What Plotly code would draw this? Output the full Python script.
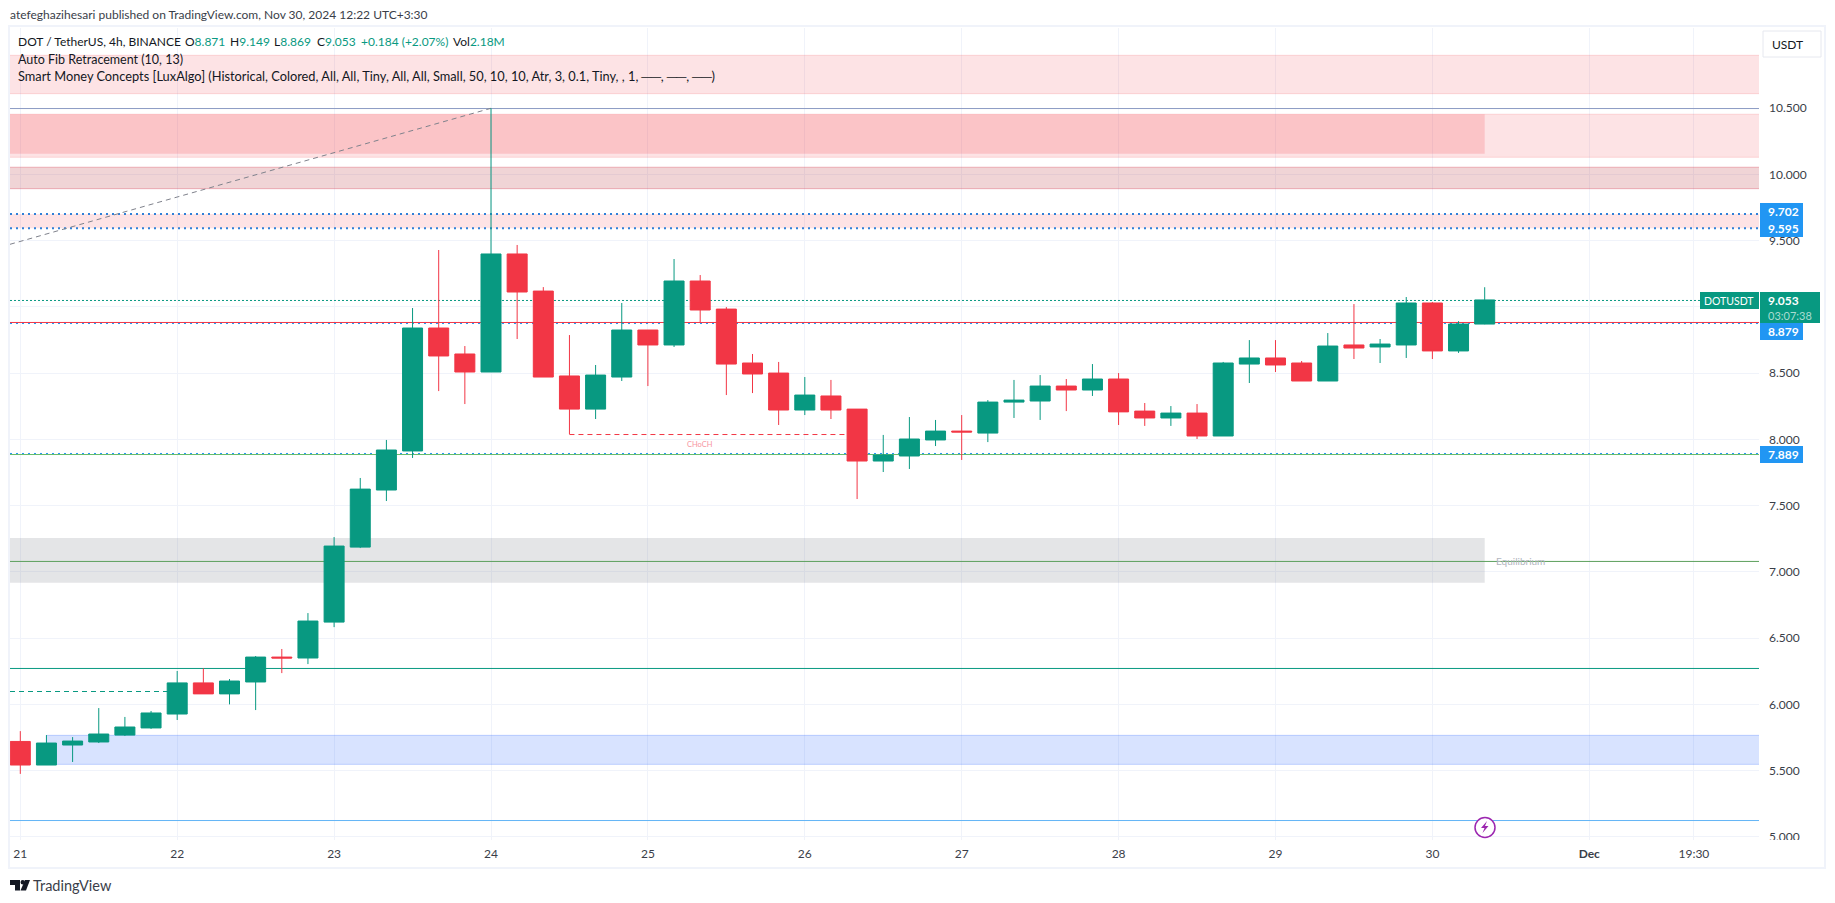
import plotly.graph_objects as go

# candles, bar index 0 = 21 Nov, six 4h bars per day
opens = [5.72, 5.542, 5.693, 5.716, 5.768, 5.822, 5.927, 6.162, 6.079, 6.169, 6.357, 6.35, 6.621, 7.187, 7.618,
         7.913, 8.841, 8.645, 8.509, 9.4, 9.12, 8.479, 8.229, 8.471, 8.826, 8.713, 9.196, 8.984, 8.577, 8.501,
         8.222, 8.328, 8.229, 7.837, 7.875, 7.996, 8.063, 8.048, 8.282, 8.29, 8.403, 8.373, 8.456, 8.214, 8.162,
         8.199, 8.026, 8.569, 8.615, 8.577, 8.441, 8.713, 8.698, 8.713, 9.03, 8.668, 8.871]
highs = [5.798, 5.768, 5.753, 5.972, 5.905, 5.95, 6.252, 6.272, 6.191, 6.365, 6.418, 6.689, 7.263, 7.709, 7.996,
         8.992, 9.43, 8.705, 10.5, 9.468, 9.15, 8.788, 8.562, 9.03, 8.826, 9.362, 9.241, 8.999, 8.645, 8.585,
         8.471, 8.449, 8.229, 8.034, 8.169, 8.147, 8.184, 8.297, 8.449, 8.486, 8.456, 8.569, 8.501, 8.275, 8.252,
         8.267, 8.585, 8.75, 8.75, 8.592, 8.803, 9.022, 8.758, 9.075, 9.037, 8.893, 9.149]
lows = [5.475, 5.542, 5.565, 5.708, 5.761, 5.815, 5.882, 6.079, 6.0, 5.957, 6.236, 6.304, 6.583, 7.18, 7.535,
        7.86, 8.365, 8.267, 8.509, 8.758, 8.471, 8.04, 8.154, 8.441, 8.403, 8.698, 8.879, 8.335, 8.35, 8.109,
        8.184, 8.154, 7.55, 7.754, 7.777, 7.95, 7.845, 7.98, 8.162, 8.147, 8.214, 8.328, 8.109, 8.102, 8.102,
        8.003, 8.026, 8.426, 8.509, 8.441, 8.441, 8.607, 8.577, 8.615, 8.607, 8.653, 8.869]
closes = [5.542, 5.708, 5.723, 5.776, 5.829, 5.935, 6.162, 6.079, 6.176, 6.357, 6.35, 6.629, 7.195, 7.625, 7.92,
          8.841, 8.63, 8.509, 9.4, 9.113, 8.471, 8.229, 8.486, 8.826, 8.713, 9.196, 8.977, 8.569, 8.494, 8.222,
          8.335, 8.222, 7.837, 7.882, 8.003, 8.063, 8.056, 8.282, 8.297, 8.403, 8.373, 8.456, 8.208, 8.162, 8.199,
          8.026, 8.577, 8.615, 8.562, 8.441, 8.705, 8.69, 8.72, 9.03, 8.668, 8.871, 9.053]
bars = list(range(len(opens)))

price_ticks = [5.0, 5.5, 6.0, 6.5, 7.0, 7.5, 8.0, 8.5, 9.0, 9.5, 10.0, 10.5]
time_ticks = [0, 6, 12, 18, 24, 30, 36, 42, 48, 54, 60, 64]
time_labels = ["21", "22", "23", "24", "25", "26", "27", "28", "29", "30", "<b>Dec</b>", "19:30"]

X_MIN, X_MAX = -0.394, 66.49
Y_MIN, Y_MAX = 4.976, 11.106
# zones run past the pane so that their outline only shows along top and bottom
ZONE_L, ZONE_R = X_MIN - 1, X_MAX + 1

GREEN = "#089981"
RED = "#f23645"
BLUE = "#2196f3"
FONT = "Lato"

# page geometry of the plot pane, in pixels
PANE_L, PANE_R, PANE_T, PANE_B = 10, 1759, 28, 840


def px(x):
    return (x - PANE_L) / (PANE_R - PANE_L)


def py(y):
    return 1 - (y - PANE_T) / (PANE_B - PANE_T)


fig = go.Figure()

fig.add_trace(go.Candlestick(
    x=bars, open=opens, high=highs, low=lows, close=closes,
    increasing=dict(line=dict(color=GREEN, width=1), fillcolor=GREEN),
    decreasing=dict(line=dict(color=RED, width=1), fillcolor=RED),
    whiskerwidth=0, showlegend=False, hoverinfo="none",
))


def band(x0, x1, p0, p1, fill, edge=None):
    fig.add_shape(type="rect", x0=x0, x1=x1, y0=p0, y1=p1, xref="x", yref="y", layer="between",
                  fillcolor=fill, line=dict(color=edge or fill, width=1 if edge else 0))


def hline(p, color, x0=X_MIN, x1=X_MAX, dash="solid", width=1):
    fig.add_shape(type="line", x0=x0, x1=x1, y0=p, y1=p, xref="x", yref="y", layer="between",
                  line=dict(color=color, width=width, dash=dash))


# supply / demand zones
band(ZONE_L, ZONE_R, 10.61, 10.90, "rgba(242,54,69,0.14)", "rgba(242,54,69,0.16)")
band(ZONE_L, ZONE_R, 10.13, 10.455, "rgba(242,54,69,0.14)", "rgba(242,54,69,0.16)")
band(ZONE_L, 56, 10.157, 10.455, "rgba(242,54,69,0.18)")
band(ZONE_L, ZONE_R, 9.893, 10.055, "rgba(178,40,51,0.2)", "rgba(220,80,100,0.4)")
band(ZONE_L, ZONE_R, 9.595, 9.702, "rgba(242,54,69,0.14)")
band(ZONE_L, 56, 6.918, 7.256, "rgba(120,123,134,0.2)")
band(1, ZONE_R, 5.547, 5.766, "rgba(41,98,255,0.18)", "rgba(41,98,255,0.25)")

# levels
BLUE_DOT = "2px,4px"
hline(10.498, "#8c9bc4")
hline(9.702, "#2f80d8", dash=BLUE_DOT, width=2)
hline(9.595, "#2f80d8", dash=BLUE_DOT, width=2)
hline(9.049, GREEN, dash="2px,2px")
hline(8.883, RED)
hline(8.875, BLUE, dash=BLUE_DOT)
hline(7.886, "#66bb6a")
hline(7.894, BLUE, dash=BLUE_DOT)
hline(7.079, "#5b9f5b")
hline(6.271, GREEN)
hline(5.123, "#64b5f6")
hline(6.097, GREEN, x1=6, dash="5px,4px")
hline(8.037, RED, x0=21, x1=32, dash="5px,4px")
fig.add_shape(type="line", x0=X_MIN, x1=18, y0=9.473, y1=10.5, xref="x", yref="y", layer="between",
              line=dict(color="#7f828c", width=1, dash="5px,4px"))


def text(x, y, s, size=13, color="#131722", anchor="left"):
    fig.add_annotation(x=px(x), y=py(y), xref="paper", yref="paper", text=s, showarrow=False,
                       xanchor=anchor, yanchor="middle", borderpad=0, borderwidth=0,
                       font=dict(family=FONT, size=size, color=color))


def box(x0, x1, y0, y1, fill, edge=None, width=1):
    fig.add_shape(type="rect", x0=px(x0), x1=px(x1), y0=py(y0), y1=py(y1), xref="paper", yref="paper",
                  layer="above", fillcolor=fill, line=dict(color=edge or fill, width=width if edge else 0))


def path(d, fill="rgba(0,0,0,0)", color=None, width=0):
    # d is a list of (command, x, y) in page pixels
    s = " ".join(f"{c}{px(x):.6f},{py(y):.6f}" for c, x, y in d) + " Z"
    fig.add_shape(type="path", path=s, xref="paper", yref="paper", layer="above", fillcolor=fill,
                  line=dict(color=color or fill, width=width))


# pane frame
box(9, 1825, 26, 868, "rgba(0,0,0,0)", "#f0f3fa", width=2)
# the last price label is cut off by the time scale
box(1760, 1824, 840, 850, "#ffffff")

# price tags
box(1760, 1803, 203, 220, BLUE)
box(1760, 1803, 220, 237, BLUE)
box(1760, 1803, 323, 340, BLUE)
box(1760, 1803, 446, 463, BLUE)
box(1700, 1759, 292, 309, GREEN)
box(1760, 1820, 292, 323, GREEN)
text(1768, 211, "<b>9.702</b>", 12, "#ffffff")
text(1768, 228.5, "<b>9.595</b>", 12, "#ffffff")
text(1768, 331.5, "<b>8.879</b>", 12, "#ffffff")
text(1768, 454.5, "<b>7.889</b>", 12, "#ffffff")
text(1704, 300.5, "DOTUSDT", 10.5, "#ffffff")
text(1768, 300, "<b>9.053</b>", 12, "#ffffff")
text(1768, 315, "03:07:38", 11, "#a9dcd1")

# currency button
fig.add_shape(type="rect", x0=px(1763), x1=px(1821), y0=py(31), y1=py(57), xref="paper", yref="paper",
              layer="above", fillcolor="#ffffff", line=dict(color="#e6e8ef", width=1))
text(1772, 44.5, "USDT", 12)

# header and legend
text(10, 14.5, "atefeghazihesari published on TradingView.com, Nov 30, 2024 12:22 UTC+3:30", 12, "#3a3e49")
num = '<span style="color:#089981">%s</span>'
text(18, 41.5, "DOT / TetherUS, 4h, BINANCE", 12)
text(185, 41.5, "O" + num % "8.871", 12)
text(229.5, 41.5, "H" + num % "9.149", 12)
text(274, 41.5, "L" + num % "8.869", 12)
text(317, 41.5, "C" + num % "9.053", 12)
text(361, 41.5, num % "+0.184 (+2.07%)", 12)
text(453.5, 41.5, "Vol" + num % "2.18M", 12)
text(18, 59, "Auto Fib Retracement (10, 13)", 12.5)
text(18, 76, "Smart Money Concepts [LuxAlgo] (Historical, Colored, All, All, Tiny, All, All, Small, 50, 10, 10, "
     "Atr, 3, 0.1, Tiny, , 1, ──, ──, ──)", 12.8)

# chart labels
fig.add_annotation(x=26, y=7.96, xref="x", yref="y", text="CHoCH", showarrow=False,
                   font=dict(family=FONT, size=7.5, color="#f7959f"))
text(1496, 560.5, "Equilibrium", 10, "#b2b5be")

# lightning marker on the time scale
fig.add_shape(type="circle", x0=px(1475), x1=px(1495), y0=py(817.5), y1=py(837.5), xref="paper", yref="paper",
              layer="above", fillcolor="#ffffff", line=dict(color="#9c27b0", width=1.5))
path([("M", 1487, 821), ("L", 1481, 828), ("L", 1484.5, 828), ("L", 1482.5, 833), ("L", 1488.5, 826),
      ("L", 1485, 826)], fill="#9c27b0")

# TradingView logo
path([("M", 10, 880), ("L", 20, 880), ("L", 20, 890.5), ("L", 15, 890.5), ("L", 15, 885), ("L", 10, 885)],
     fill="#131722")
path([("M", 25, 880), ("L", 30, 880), ("L", 26, 890.5), ("L", 20.5, 890.5)], fill="#131722")
fig.add_shape(type="circle", x0=px(20.5), x1=px(25), y0=py(880), y1=py(884.5), xref="paper", yref="paper",
              layer="above", fillcolor="#131722", line=dict(width=0))
text(33, 885, "TradingView", 14.5, "#3a3e49")

fig.update_layout(
    width=1835, height=903, autosize=False,
    paper_bgcolor="#ffffff", plot_bgcolor="#ffffff",
    margin=dict(l=PANE_L, r=1835 - PANE_R, t=PANE_T, b=903 - PANE_B, pad=0),
    boxgap=0.235, boxgroupgap=0, showlegend=False,
    font=dict(family=FONT, size=12, color="#131722"),
    xaxis=dict(range=[X_MIN, X_MAX], tickmode="array", tickvals=time_ticks, ticktext=time_labels,
               showgrid=True, gridcolor="#f0f3fa", gridwidth=1, zeroline=False, showline=False, ticks="",
               rangeslider=dict(visible=False), tickfont=dict(size=12, color="#3a3e49"), ticklabelstandoff=5),
    yaxis=dict(range=[Y_MIN, Y_MAX], side="right", tickmode="array", tickvals=price_ticks, tickformat=".3f",
               showgrid=True, gridcolor="#f0f3fa", gridwidth=1, zeroline=False, showline=False, ticks="",
               tickfont=dict(size=12, color="#3a3e49"), ticklabelstandoff=9),
)

# plotly's page keeps the browser's default body margin
fig.write_html("out.html", config={"displayModeBar": False},
               post_script="document.body.style.margin='0';document.body.style.overflow='hidden';")
